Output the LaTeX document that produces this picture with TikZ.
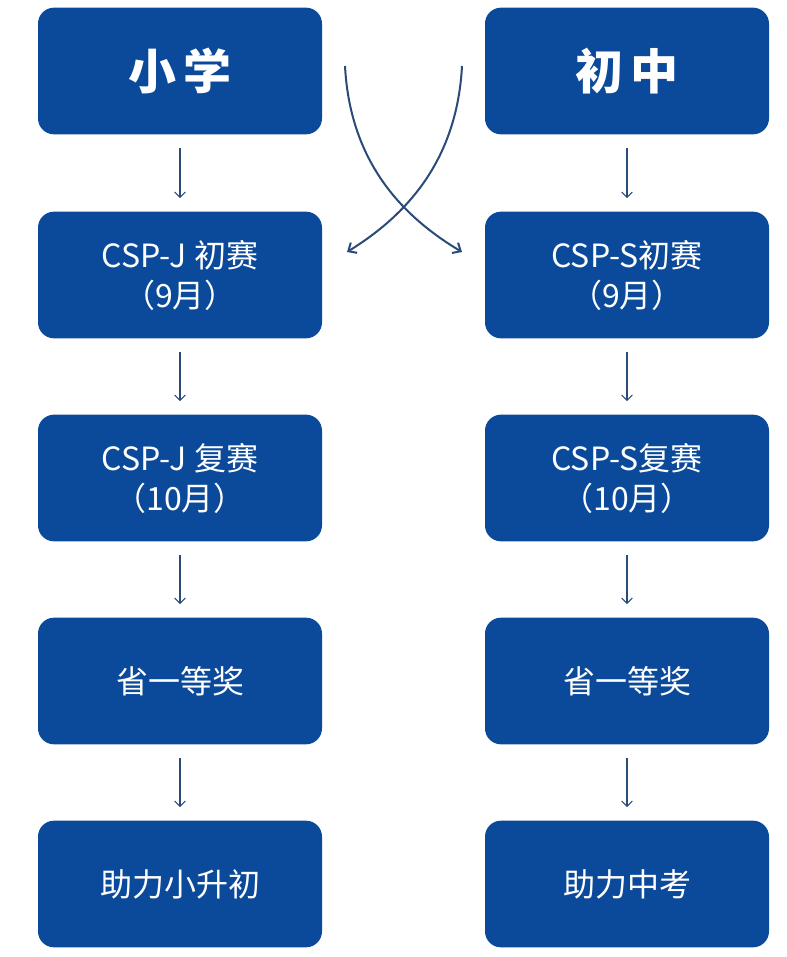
\documentclass[tikz,border=0pt]{standalone}
\usepackage{fontspec}
\setmainfont{Noto Sans CJK SC}
\usetikzlibrary{arrows.meta}
\definecolor{boxblue}{HTML}{0B4A9A}
\definecolor{linec}{HTML}{2A4A78}
\begin{document}
\begin{tikzpicture}[x=0.75pt,y=-0.75pt,
  box/.style={fill=boxblue,rounded corners=12pt,minimum width=213pt,minimum height=95pt,text=white,align=center,font=\fontsize{24}{30}\selectfont},
  title/.style={box,font=\fontsize{36}{40}\selectfont\bfseries},
  arr/.style={draw=linec,line width=0.8pt,-{Straight Barb[length=4pt,width=8pt]}},
  cross/.style={draw=linec,line width=1.5pt,-{Straight Barb[length=5pt,width=9pt]}}]
\useasboundingbox (0,0) rectangle (786,957);
\node[title] (a1) at (180,71) {小\,学};
\node[box] (a2) at (180,275) {CSP-J 初赛\\（9月）};
\node[box] (a3) at (180,478) {CSP-J 复赛\\（10月）};
\node[box] (a4) at (180,681) {省一等奖};
\node[box] (a5) at (180,884) {助力小升初};
\node[title] (b1) at (627,71) {初\,中};
\node[box] (b2) at (627,275) {CSP-S初赛\\（9月）};
\node[box] (b3) at (627,478) {CSP-S复赛\\（10月）};
\node[box] (b4) at (627,681) {省一等奖};
\node[box] (b5) at (627,884) {助力中考};
\foreach \u/\v in {a1/a2,a2/a3,a3/a4,a4/a5}{\draw[arr] ([yshift=-10pt]\u.south) -- ([yshift=10pt]\v.north);}
\foreach \u/\v in {b1/b2,b2/b3,b3/b4,b4/b5}{\draw[arr] ([yshift=-10pt]\u.south) -- ([yshift=10pt]\v.north);}
\coordinate (s1) at (345,66);
\coordinate (e1) at (462,252);
\coordinate (s2) at (462,66);
\coordinate (e2) at (347,252);
\draw[cross] (s1) .. controls (350,160) and (400,215) .. (e1);
\draw[cross] (s2) .. controls (457,160) and (407,215) .. (e2);
\end{tikzpicture}
\end{document}
